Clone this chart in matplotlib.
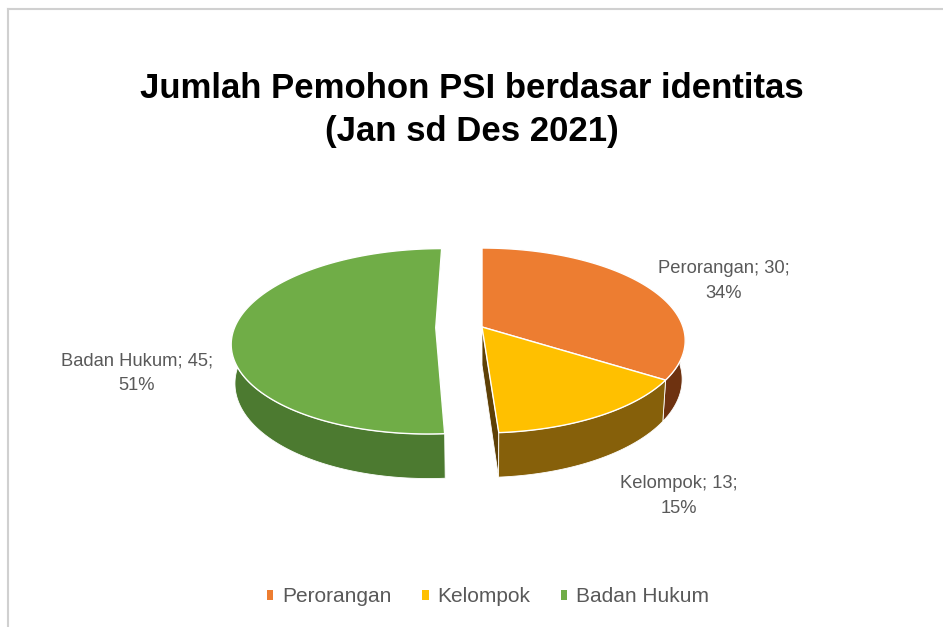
import numpy as np
import matplotlib
matplotlib.use('Agg')
import matplotlib.pyplot as plt
from matplotlib.patches import Polygon

labels = ['Perorangan', 'Kelompok', 'Badan Hukum']
values = [30, 13, 45]
explode = [0.0, 0.0, 0.23]
top_cols = ['#ED7D31', '#FFC000', '#70AD47']
wall_cols = ['#6E3210', '#86600A', '#4C7A30']
cut_cols = ['#5A280C', '#5E4006', '#3F6626']
title = 'Jumlah Pemohon PSI berdasar identitas\n(Jan sd Des 2021)'

# 3d pie geometry in pixel space
cx, cy = 482, 327
R, A, D, k = 201, 90.5, 38, 0.146

plt.rcParams['font.family'] = ['Liberation Sans', 'DejaVu Sans']

fig = plt.figure(figsize=(9.43, 6.27), dpi=100)
ax = fig.add_axes([0, 0, 1, 1])
ax.set_xlim(0, 943)
ax.set_ylim(627, 0)
ax.axis('off')


def proj(u, v, h=0.0):
    s = 1.0 / (1.0 + k * v)
    # slight convergence of vertical edges
    return cx + R * u * s * (1 - 0.015 * h), cy - A * v * s + h * D * s


def pts(th, du, dv, h=0.0):
    u = np.sin(np.radians(th)) + du
    v = np.cos(np.radians(th)) + dv
    x, y = proj(u, v, h)
    return np.column_stack([x, y])


total = float(sum(values))
bounds = np.concatenate([[0], np.cumsum(values) / total * 360])
handles = []
for i in range(len(values)):
    t1, t2 = bounds[i], bounds[i + 1]
    mid = np.radians((t1 + t2) / 2)
    du, dv = explode[i] * np.sin(mid), explode[i] * np.cos(mid)
    c0 = np.array(proj(du, dv, 0))
    c1 = np.array(proj(du, dv, 1))

    # radial cut walls facing viewer
    for t, visible in ((t1, np.sin(np.radians(t1)) < -1e-6), (t2, np.sin(np.radians(t2)) > 1e-6)):
        if visible:
            e0 = pts([t], du, dv, 0)[0]
            e1 = pts([t], du, dv, 1)[0]
            ax.add_patch(Polygon([c0, e0, e1, c1], closed=True, fc=cut_cols[i],
                                 ec='white', lw=0.6, zorder=2 + i))

    # outer wall on front half
    a, b = max(t1, 90), min(t2, 270)
    if b > a:
        th = np.linspace(a, b, 80)
        top = pts(th, du, dv, 0)
        bot = pts(th, du, dv, 1)
        ax.add_patch(Polygon(np.vstack([top, bot[::-1]]), closed=True, fc=wall_cols[i],
                             ec='white', lw=0.6, zorder=2 + i))

    th = np.linspace(t1, t2, 200)
    face = np.vstack([c0, pts(th, du, dv, 0)])
    p = Polygon(face, closed=True, fc=top_cols[i], ec='white', lw=1.0, zorder=2 + i,
                label=labels[i])
    ax.add_patch(p)
    handles.append(p)

lab_pos = [(724, 281), (679, 496), (137, 373)]
for i in range(len(values)):
    pct = values[i] / total * 100
    ax.text(lab_pos[i][0], lab_pos[i][1], f'{labels[i]}; {values[i]};\n{pct:.0f}%',
            ha='center', va='center', fontsize=13.2, color='#595959', linespacing=1.6)

ax.text(471.5, 110, title, ha='center', va='center', fontsize=25, fontweight='bold',
        color='black', linespacing=1.38)

leg = ax.legend(handles=handles, loc='center', bbox_to_anchor=(0.5175, 1 - 597 / 627), ncol=3,
                frameon=False, fontsize=15, handlelength=0.3, handleheight=0.3,
                handletextpad=0.4, columnspacing=1.5, labelcolor='#595959')
for h in leg.legend_handles:
    h.set_edgecolor('none')

# chart frame (top and left)
ax.plot([7.5, 943], [8.5, 8.5], color='#D0D0D0', lw=1.5, zorder=1)
ax.plot([7.5, 7.5], [8.5, 627], color='#D0D0D0', lw=1.5, zorder=1)

plt.savefig('out.png', dpi=100)
